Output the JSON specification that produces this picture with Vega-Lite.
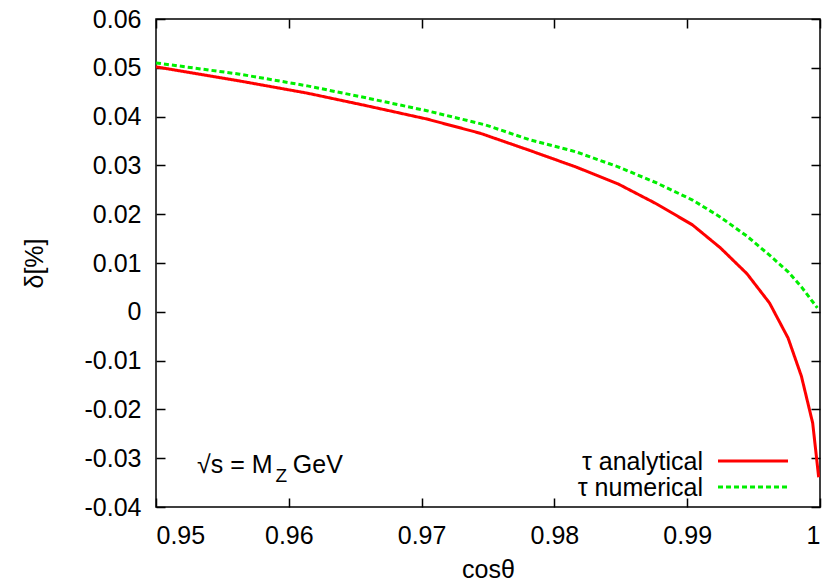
{
  "$schema": "https://vega.github.io/schema/vega-lite/v6.json",
  "width": 664,
  "height": 488,
  "autosize": {"type": "none"},
  "padding": {"left": 156, "top": 19, "right": 11, "bottom": 80},
  "background": "white",
  "title": {"text": "cosθ", "fontSize": 25, "fontWeight": "normal", "font": "Liberation Sans", "baseline": "alphabetic", "offset": 13, "anchor": "middle", "color": "black"},
  "config": {
    "view": {"stroke": "black", "strokeWidth": 1.5},
    "font": "Liberation Sans",
    "axis": {"domain": false, "ticks": false, "grid": true, "gridColor": "black", "gridWidth": 1.5, "gridOpacity": 1, "labelFont": "Liberation Sans", "labelFontSize": 25, "labelColor": "black", "titleFont": "Liberation Sans", "titleFontSize": 25, "titleFontWeight": "normal", "titleColor": "black"}
  },
  "datasets": {
    "curves": [
      {"c": 0.9500, "d": 0.0502, "s": "τ analytical"},
      {"c": 0.9563, "d": 0.0473, "s": "τ analytical"},
      {"c": 0.9614, "d": 0.0448, "s": "τ analytical"},
      {"c": 0.9659, "d": 0.0422, "s": "τ analytical"},
      {"c": 0.9704, "d": 0.0395, "s": "τ analytical"},
      {"c": 0.9744, "d": 0.0366, "s": "τ analytical"},
      {"c": 0.9780, "d": 0.0332, "s": "τ analytical"},
      {"c": 0.9816, "d": 0.0297, "s": "τ analytical"},
      {"c": 0.9848, "d": 0.0262, "s": "τ analytical"},
      {"c": 0.9877, "d": 0.0221, "s": "τ analytical"},
      {"c": 0.9904, "d": 0.0178, "s": "τ analytical"},
      {"c": 0.9925, "d": 0.0131, "s": "τ analytical"},
      {"c": 0.9945, "d": 0.0078, "s": "τ analytical"},
      {"c": 0.9962, "d": 0.0018, "s": "τ analytical"},
      {"c": 0.9976, "d": -0.0054, "s": "τ analytical"},
      {"c": 0.9986, "d": -0.0132, "s": "τ analytical"},
      {"c": 0.99945, "d": -0.0228, "s": "τ analytical"},
      {"c": 0.9999, "d": -0.0339, "s": "τ analytical"},
      {"c": 0.9500, "d": 0.0510, "s": "τ numerical"},
      {"c": 0.9563, "d": 0.0487, "s": "τ numerical"},
      {"c": 0.9614, "d": 0.0463, "s": "τ numerical"},
      {"c": 0.9659, "d": 0.0438, "s": "τ numerical"},
      {"c": 0.9704, "d": 0.0412, "s": "τ numerical"},
      {"c": 0.9748, "d": 0.0383, "s": "τ numerical"},
      {"c": 0.9782, "d": 0.0352, "s": "τ numerical"},
      {"c": 0.9816, "d": 0.0328, "s": "τ numerical"},
      {"c": 0.9848, "d": 0.0297, "s": "τ numerical"},
      {"c": 0.9877, "d": 0.0264, "s": "τ numerical"},
      {"c": 0.9904, "d": 0.0229, "s": "τ numerical"},
      {"c": 0.9925, "d": 0.0194, "s": "τ numerical"},
      {"c": 0.9945, "d": 0.0155, "s": "τ numerical"},
      {"c": 0.9962, "d": 0.0116, "s": "τ numerical"},
      {"c": 0.9976, "d": 0.0082, "s": "τ numerical"},
      {"c": 0.9986, "d": 0.0051, "s": "τ numerical"},
      {"c": 0.9998, "d": 0.0008, "s": "τ numerical"}
    ]
  },
  "resolve": {"axis": {"x": "independent", "y": "independent"}},
  "layer": [
    {
      "data": {"name": "curves"},
      "mark": {"type": "line", "strokeWidth": 3, "clip": true},
      "encoding": {
        "x": {"field": "c", "type": "quantitative", "scale": {"domain": [0.95, 1], "nice": false, "zero": false},
              "axis": {"orient": "bottom", "title": "cosθ", "values": [0.95, 0.96, 0.97, 0.98, 0.99, 1], "gridDash": [9, 470], "labelExpr": "replace(format(datum.value, '.2~f'), '−', '-')", "labelPadding": 16, "titlePadding": 9}},
        "y": {"field": "d", "type": "quantitative", "scale": {"domain": [-0.04, 0.06], "nice": false, "zero": false},
              "axis": {"orient": "left", "title": "δ[%]", "values": [-0.04, -0.03, -0.02, -0.01, 0, 0.01, 0.02, 0.03, 0.04, 0.05, 0.06], "gridDash": [9, 646], "labelExpr": "replace(format(datum.value, '.2~f'), '−', '-')", "labelPadding": 15, "titleX": -109, "titleY": 244}},
        "color": {"field": "s", "type": "nominal", "scale": {"domain": ["τ analytical", "τ numerical"], "range": ["#ff0000", "#00ee00"]}, "legend": null},
        "strokeDash": {"field": "s", "type": "nominal", "scale": {"domain": ["τ analytical", "τ numerical"], "range": [[1, 0], [5, 3]]}, "legend": null}
      }
    },
    {
      "data": {"values": [{}]},
      "mark": {"type": "text", "align": "left", "baseline": "alphabetic", "fontSize": 25, "font": "Liberation Sans", "color": "black"},
      "encoding": {
        "x": {"datum": 0.95309, "type": "quantitative", "axis": null},
        "y": {"datum": -0.03303, "type": "quantitative", "axis": null},
        "text": {"value": "√s = M"}
      }
    },
    {
      "data": {"values": [{}]},
      "mark": {"type": "text", "align": "left", "baseline": "alphabetic", "fontSize": 19, "font": "Liberation Sans", "color": "black"},
      "encoding": {
        "x": {"datum": 0.95900, "type": "quantitative", "axis": null},
        "y": {"datum": -0.03488, "type": "quantitative", "axis": null},
        "text": {"value": "Z"}
      }
    },
    {
      "data": {"values": [{}]},
      "mark": {"type": "text", "align": "left", "baseline": "alphabetic", "fontSize": 25, "font": "Liberation Sans", "color": "black"},
      "encoding": {
        "x": {"datum": 0.96030, "type": "quantitative", "axis": null},
        "y": {"datum": -0.03303, "type": "quantitative", "axis": null},
        "text": {"value": "GeV"}
      }
    },
    {
      "data": {"values": [{"s": "τ analytical"}]},
      "mark": {"type": "rule", "strokeWidth": 3},
      "encoding": {
        "x": {"datum": 0.99232, "type": "quantitative", "axis": null},
        "x2": {"datum": 0.99759},
        "y": {"datum": -0.03057, "type": "quantitative", "axis": null},
        "color": {"field": "s", "type": "nominal", "legend": null},
        "strokeDash": {"field": "s", "type": "nominal", "legend": null}
      }
    },
    {
      "data": {"values": [{"s": "τ numerical"}]},
      "mark": {"type": "rule", "strokeWidth": 3},
      "encoding": {
        "x": {"datum": 0.99232, "type": "quantitative", "axis": null},
        "x2": {"datum": 0.99759},
        "y": {"datum": -0.0359, "type": "quantitative", "axis": null},
        "color": {"field": "s", "type": "nominal", "legend": null},
        "strokeDash": {"field": "s", "type": "nominal", "legend": null}
      }
    },
    {
      "data": {"values": [{"s": "τ analytical"}]},
      "mark": {"type": "text", "align": "right", "baseline": "alphabetic", "fontSize": 25, "font": "Liberation Sans", "color": "black"},
      "encoding": {
        "x": {"datum": 0.99119, "type": "quantitative", "axis": null},
        "y": {"datum": -0.03242, "type": "quantitative", "axis": null},
        "text": {"field": "s"}
      }
    },
    {
      "data": {"values": [{"s": "τ numerical"}]},
      "mark": {"type": "text", "align": "right", "baseline": "alphabetic", "fontSize": 25, "font": "Liberation Sans", "color": "black"},
      "encoding": {
        "x": {"datum": 0.99119, "type": "quantitative", "axis": null},
        "y": {"datum": -0.03775, "type": "quantitative", "axis": null},
        "text": {"field": "s"}
      }
    }
  ]
}
